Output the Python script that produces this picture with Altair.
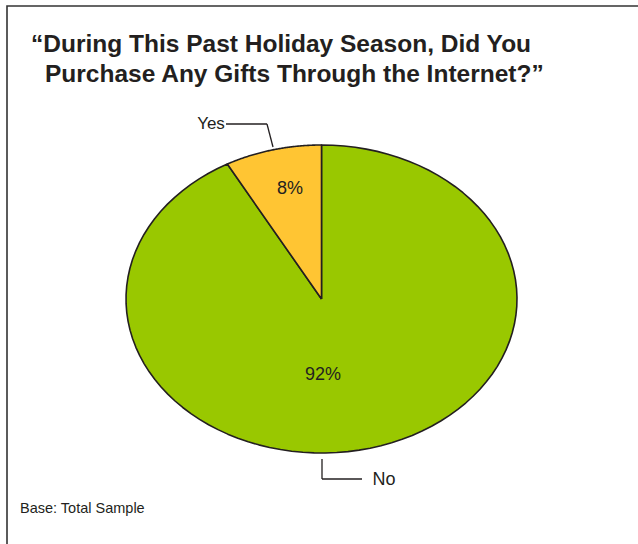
import altair as alt
import pandas as pd

categories = ["No", "Yes"]
values = [92, 8]
pct_labels = ["92%", "8%"]
colors = ["#99C800", "#FFC533"]

title_lines = ["\u201cDuring This Past Holiday Season, Did You",
               "Purchase Any Gifts Through the Internet?\u201d"]
footnote = "Base: Total Sample"

df = pd.DataFrame({"cat": categories, "value": values, "order": [0, 1]})

W, H = 638, 544
# scale domains so that unit circle maps to the ellipse
xs = alt.Scale(domain=[-1.6445, 1.6189], nice=False, zero=False)
ys = alt.Scale(domain=[-1.5909, 1.9416], nice=False, zero=False)

INK = "#231f20"
FONT = "Liberation Sans, Arial"

pie = alt.Chart(df).transform_window(
    cum="sum(value)", sort=[alt.SortField("order")], frame=[None, 0]
).transform_joinaggregate(
    total="sum(value)"
).transform_calculate(
    start="(datum.cum - datum.value) / datum.total",
    end="datum.cum / datum.total",
    k="sequence(0, 103)"
).transform_flatten(["k"]).transform_calculate(
    t="clamp((datum.k - 1) / 100, 0, 1)",
).transform_calculate(
    ang="2 * PI * (datum.start + datum.t * (datum.end - datum.start))",
).transform_calculate(
    px="(datum.k == 0 || datum.k == 102) ? 0 : sin(datum.ang)",
    py="(datum.k == 0 || datum.k == 102) ? 0 : cos(datum.ang)",
).mark_line(stroke=INK, strokeWidth=1.6, strokeJoin="round").encode(
    x=alt.X("px:Q", scale=xs, axis=None),
    y=alt.Y("py:Q", scale=ys, axis=None),
    fill=alt.Fill("cat:N", scale=alt.Scale(domain=categories, range=colors), legend=None),
    detail="cat:N",
    order=alt.Order("k:Q"),
)

def txt(s, x, y, size, weight="normal", align="center", font=FONT, baseline="middle"):
    return alt.Chart(pd.DataFrame({"t": [s]})).mark_text(
        font=font, fontSize=size, fontWeight=weight, color=INK,
        align=align, baseline=baseline
    ).encode(text="t:N", x=alt.value(x), y=alt.value(y))

def seg(x1, y1, x2, y2):
    return alt.Chart(pd.DataFrame({"a": [0]})).mark_rule(color=INK, strokeWidth=1.3).encode(
        x=alt.value(x1), y=alt.value(y1), x2=alt.value(x2), y2=alt.value(y2))

frame = alt.Chart(pd.DataFrame({"a": [0]})).mark_rect(
    fill=None, stroke="#333333", strokeWidth=1.6
).encode(x=alt.value(7), y=alt.value(6), x2=alt.value(W + 20), y2=alt.value(H + 20))

layers = [
    frame,
    pie,
    txt(title_lines[0], 31, 52, 24.5, "bold", "left", baseline="alphabetic"),
    txt(title_lines[1], 45, 82, 24.5, "bold", "left", baseline="alphabetic"),
    txt(pct_labels[1], 290, 189, 18),
    txt(pct_labels[0], 323, 375, 18),
    txt(categories[1], 211, 124, 17),
    txt(categories[0], 384, 480, 18),
    txt(footnote, 20, 509, 14.5, align="left"),
    seg(226, 124, 267, 124),
    seg(267, 124, 273, 147),
    seg(322, 459, 322, 479),
    seg(322, 479, 362, 479),
]

chart = alt.layer(*layers).properties(
    width=W, height=H, padding=0, autosize=alt.AutoSizeParams(type="none"),
    background="white"
).configure_view(stroke=None)

chart.save("out.html", embed_options={"renderer": "svg", "actions": False})
